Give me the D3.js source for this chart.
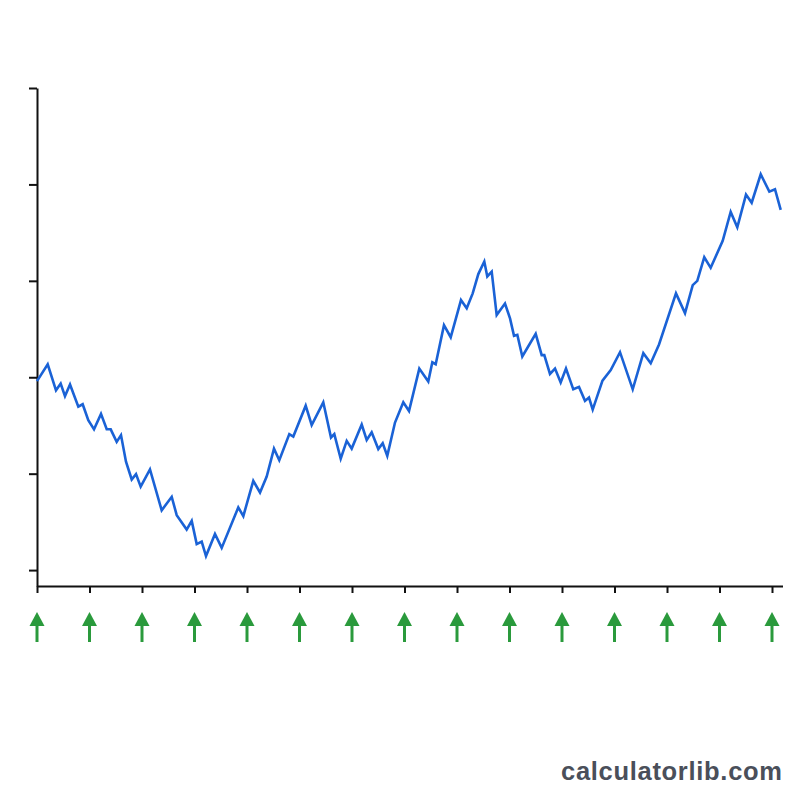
<!DOCTYPE html>
<html>
<head>
<meta charset="utf-8">
<script src="https://cdn.jsdelivr.net/npm/d3@7"></script>
<style>
  body { margin: 0; background: #fff; }
  svg { display: block; }
</style>
</head>
<body>
<div id="chart"></div>
<script>
// random-walk series (x = step, y = value)
var steps = [0, 2.04, 3.62, 4.51, 5.33, 6.29, 7.87, 8.70, 9.77, 10.86, 12.19, 13.28, 14.04, 15.18, 16.0,
  16.95, 18.04, 18.86, 19.75, 21.52, 23.75, 25.66, 26.61, 28.51, 29.47, 30.42, 31.37, 32.19, 33.9,
  35.18, 38.34, 39.3, 41.2, 42.48, 43.75, 45.14, 46.15, 48.06, 48.82, 51.18, 52.32, 54.53, 56.0,
  56.63, 57.85, 58.99, 59.94, 61.85, 62.8, 63.75, 65.01, 65.85, 66.72, 68.19, 69.77, 70.86, 72.82,
  74.53, 75.30, 75.94, 77.52, 78.8, 80.76, 81.85, 82.99, 84.06, 85.2, 85.77, 86.61, 87.56, 89.14,
  90.10, 90.86, 91.49, 92.44, 94.99, 96.13, 96.63, 97.71, 98.67, 99.75, 100.76, 102.15, 103.24,
  104.38, 105.14, 105.85, 107.71, 109.28, 111.05, 113.47, 115.49, 116.9, 118.48, 121.71, 123.43,
  124.90, 125.77, 127.1, 128.32, 130.61, 132.13, 133.39, 135.05, 136.13, 137.85, 139.49, 140.57, 141.66];
var values = [39.2, 42.7, 37.3, 38.7, 36.1, 38.5, 33.9, 34.4, 31.1, 29.2, 32.4, 29.2, 29.2, 26.6, 28.0,
  22.5, 18.8, 19.9, 17.3, 20.9, 12.4, 15.2, 11.4, 8.4, 10.2, 5.4, 5.9, 2.9, 7.5,
  4.6, 13.0, 11.2, 18.5, 16.1, 19.4, 25.2, 22.8, 28.2, 27.7, 34.1, 30.1, 34.8, 27.5,
  28.2, 23.1, 26.8, 25.2, 30.2, 27.0, 28.6, 25.1, 26.3, 23.7, 30.6, 34.8, 33.0, 41.8,
  39.1, 43.1, 42.7, 50.8, 48.3, 56.0, 54.3, 57.4, 61.4, 64.0, 60.9, 61.9, 52.9, 55.3,
  52.2, 48.6, 48.8, 44.3, 49.0, 44.6, 44.6, 40.7, 41.8, 38.9, 41.8, 37.5, 38.0,
  35.1, 35.8, 33.3, 39.3, 41.5, 45.2, 37.5, 45.0, 42.9, 46.8, 57.4, 53.3,
  59.1, 60.0, 64.9, 62.7, 68.3, 74.3, 71.1, 77.9, 76.2, 82.1, 78.5, 79.0, 74.7];

var xTicks = [0, 10, 20, 30, 40, 50, 60, 70, 80, 90, 100, 110, 120, 130, 140];
var yTicks = [0, 20, 40, 60, 80, 100];

var width = 800, height = 800;

var svg = d3.select('#chart').append('svg')
  .attr('width', width)
  .attr('height', height);

var x = d3.scaleLinear().domain([0, 142]).range([37, 782.5]);
var y = d3.scaleLinear().domain([-3.3, 100]).range([586, 88]);

var xAxis = svg.append('g')
  .attr('transform', 'translate(0,' + y(-3.3) + ')')
  .call(d3.axisBottom(x).tickValues(xTicks).tickSize(7).tickSizeOuter(0).tickFormat(''));

var yAxis = svg.append('g')
  .attr('transform', 'translate(' + x(0) + ',0)')
  .call(d3.axisLeft(y).tickValues(yTicks).tickSize(8).tickSizeOuter(0).tickFormat(''));

svg.selectAll('.domain, .tick line')
  .attr('stroke', '#111')
  .attr('stroke-width', 2);

// green arrows under every x tick
var arrows = svg.append('g').selectAll('g')
  .data(xTicks)
  .enter().append('g')
  .attr('transform', function(d) { return 'translate(' + x(d) + ',0)'; });

arrows.append('line')
  .attr('x1', 0).attr('x2', 0)
  .attr('y1', 622).attr('y2', 642)
  .attr('stroke', '#2a9a3c')
  .attr('stroke-width', 3);

arrows.append('path')
  .attr('d', 'M0,612L7.5,626L-7.5,626Z')
  .attr('fill', '#2a9a3c');

var line = d3.line()
  .x(function(d, i) { return x(steps[i]); })
  .y(function(d) { return y(d); });

svg.append('path')
  .datum(values)
  .attr('d', line)
  .attr('fill', 'none')
  .attr('stroke', '#1a62d6')
  .attr('stroke-width', 2.6)
  .attr('stroke-linejoin', 'miter');

svg.append('text')
  .attr('x', 782)
  .attr('y', 780)
  .attr('text-anchor', 'end')
  .attr('font-family', 'Liberation Sans, Arial, sans-serif')
  .attr('font-weight', 'bold')
  .attr('font-size', 25.5)
  .attr('textLength', 221)
  .attr('lengthAdjust', 'spacing')
  .attr('fill', '#4a4f5a')
  .text('calculatorlib.com');
</script>
</body>
</html>
